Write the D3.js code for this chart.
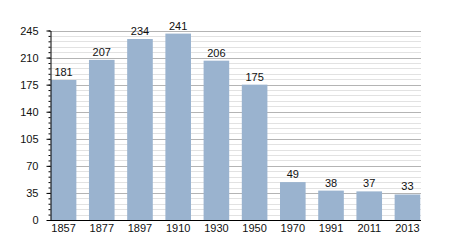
<!DOCTYPE html>
<html>
<head>
<meta charset="utf-8">
<script src="https://cdn.jsdelivr.net/npm/d3@7"></script>
<style>
  body { margin: 0; background: #fff; }
  text { font-family: "Liberation Sans", Arial, sans-serif; }
</style>
</head>
<body>
<svg id="chart" width="450" height="250"></svg>
<script>
const years = ['1857', '1877', '1897', '1910', '1930', '1950', '1970', '1991', '2011', '2013'];
const population = [181, 207, 234, 241, 206, 175, 49, 38, 37, 33];
const yTicks = [0, 35, 70, 105, 140, 175, 210, 245];
const yMinorTicks = d3.range(0, 246, 7);

const svg = d3.select('#chart');
const plotLeft = 50, plotRight = 421, plotTop = 30.5, plotBottom = 220;

const x = d3.scaleBand()
  .domain(years)
  .range([plotLeft, plotRight])
  .paddingInner(0.33)
  .paddingOuter(0.02);

const y = d3.scaleLinear()
  .domain([0, 245])
  .range([plotBottom, plotTop]);

// minor grid
svg.append('g')
  .selectAll('line')
  .data(yMinorTicks.filter(d => d % 35 !== 0))
  .enter()
  .append('line')
  .attr('x1', plotLeft)
  .attr('x2', plotRight)
  .attr('y1', d => Math.round(y(d)) + 0.5)
  .attr('y2', d => Math.round(y(d)) + 0.5)
  .attr('stroke', '#e2e2e2');

// major grid
svg.append('g')
  .selectAll('line')
  .data(yTicks.slice(1))
  .enter()
  .append('line')
  .attr('x1', plotLeft)
  .attr('x2', plotRight)
  .attr('y1', d => Math.round(y(d)) + 0.5)
  .attr('y2', d => Math.round(y(d)) + 0.5)
  .attr('stroke', '#b4b4b4');

// bars
svg.append('g')
  .selectAll('rect')
  .data(population)
  .enter()
  .append('rect')
  .attr('x', (d, i) => x(years[i]))
  .attr('y', d => y(d))
  .attr('width', x.bandwidth())
  .attr('height', d => plotBottom - y(d))
  .attr('fill', '#9ab3cf');

// value labels
svg.append('g')
  .selectAll('text')
  .data(population)
  .enter()
  .append('text')
  .attr('x', (d, i) => x(years[i]) + x.bandwidth() / 2)
  .attr('y', d => y(d) - 4)
  .attr('text-anchor', 'middle')
  .style('font-size', '11px')
  .attr('fill', '#111')
  .text(d => d);

// y axis with minor ticks
svg.append('g')
  .attr('transform', `translate(${plotLeft + 0.5},0)`)
  .call(d3.axisLeft(y).tickValues(yMinorTicks).tickSize(2).tickFormat(''))
  .call(g => g.select('.domain').remove());

const yAxis = svg.append('g')
  .attr('transform', `translate(${plotLeft + 0.5},0)`)
  .call(d3.axisLeft(y).tickValues(yTicks).tickSize(4).tickSizeOuter(0).tickPadding(8));
yAxis.selectAll('text').style('font-size', '11px').attr('fill', '#111');

// x axis
const xAxis = svg.append('g')
  .attr('transform', `translate(0,${plotBottom + 0.5})`)
  .call(d3.axisBottom(x).tickSize(0).tickPadding(4));
xAxis.select('.domain').attr('d', `M${plotLeft},0H${plotRight}`).attr('stroke', '#000');
xAxis.selectAll('text').style('font-size', '11px').attr('fill', '#111');
</script>
</body>
</html>
